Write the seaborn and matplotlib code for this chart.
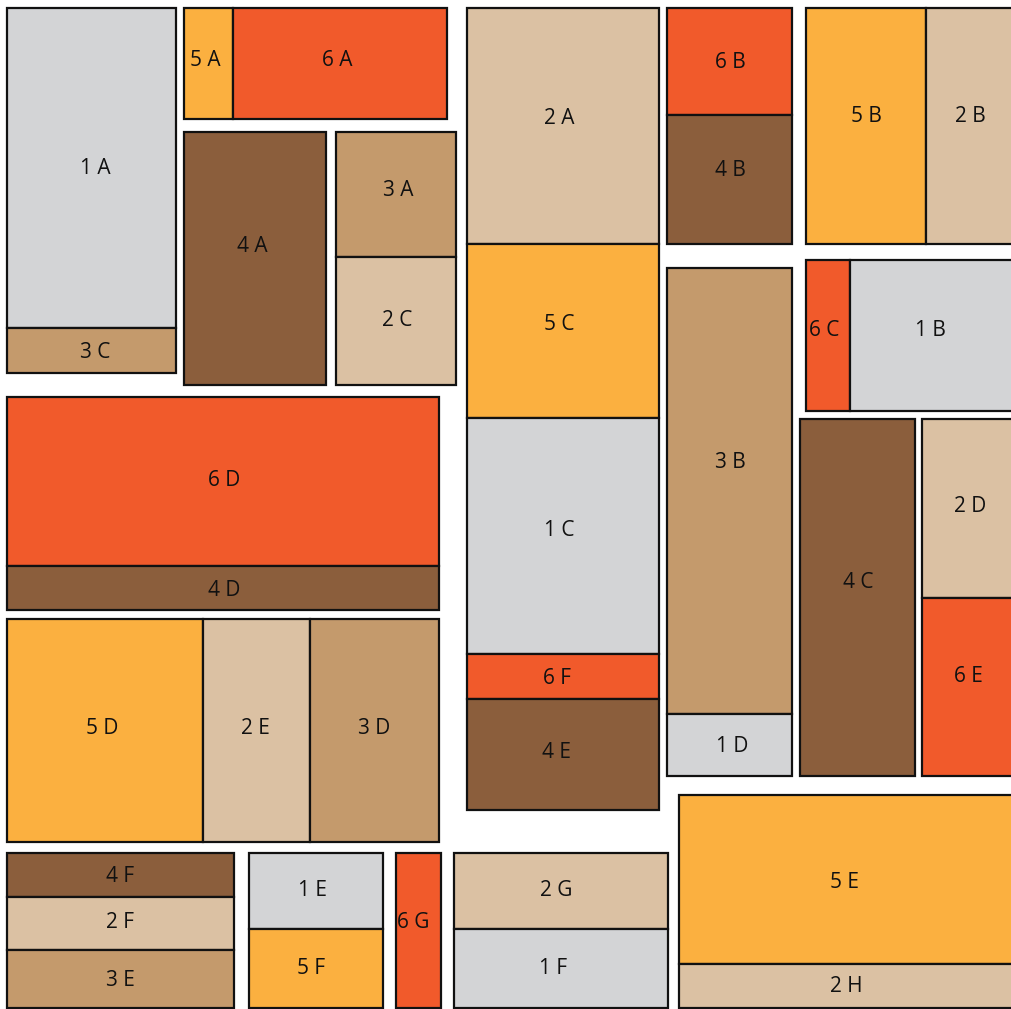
import matplotlib
matplotlib.use("Agg")
import matplotlib.pyplot as plt
import seaborn as sns
import pandas as pd

# block labels and colour group (first digit of the label)
labels = ['1 A', '3 C', '5 A', '6 A', '4 A', '3 A', '2 C',
          '2 A', '5 C', '1 C', '6 F', '4 E',
          '6 B', '4 B', '5 B', '2 B',
          '3 B', '1 D', '6 C', '1 B', '4 C', '2 D', '6 E',
          '6 D', '4 D', '5 D', '2 E', '3 D',
          '4 F', '2 F', '3 E', '1 E', '5 F', '6 G', '2 G', '1 F', '5 E', '2 H']

# block extents (left, top, right, bottom)
x_left = [7, 7, 184, 233, 184, 336, 336,
          467, 467, 467, 467, 467,
          667, 667, 806, 926,
          667, 667, 806, 850, 800, 922, 922,
          7, 7, 7, 203, 310,
          7, 7, 7, 249, 249, 396, 454, 454, 679, 679]
x_right = [176, 176, 233, 447, 326, 456, 456,
           659, 659, 659, 659, 659,
           792, 792, 926, 1020,
           792, 792, 850, 1020, 915, 1020, 1020,
           439, 439, 203, 310, 439,
           234, 234, 234, 383, 383, 441, 668, 668, 1020, 1020]
y_top = [8, 328, 8, 8, 132, 132, 257,
         8, 244, 418, 654, 699,
         8, 115, 8, 8,
         268, 714, 260, 260, 419, 419, 598,
         397, 566, 619, 619, 619,
         853, 897, 950, 853, 929, 853, 853, 929, 795, 964]
y_bottom = [328, 373, 119, 119, 385, 257, 385,
            244, 418, 654, 699, 810,
            115, 244, 244, 244,
            714, 776, 411, 411, 776, 598, 776,
            566, 610, 842, 842, 842,
            897, 950, 1008, 929, 1008, 1008, 929, 1008, 964, 1008]

# where each label sits (not always the block centre)
label_x = [95, 95, 205, 337, 252, 398, 397,
           559, 559, 559, 557, 557,
           730, 730, 866, 970,
           730, 732, 824, 930, 858, 970, 968,
           224, 224, 102, 255, 374,
           120, 120, 120, 312, 311, 413, 556, 553, 844, 846]
label_y = [165, 349, 57, 57, 244, 187, 318,
           116, 322, 527, 676, 749,
           60, 168, 114, 114,
           460, 743, 327, 327, 580, 504, 673,
           478, 587, 725, 725, 725,
           873, 920, 977, 887, 965, 919, 887, 966, 879, 984]

group_colors = {'1': '#D3D4D6', '2': '#DBC1A3', '3': '#C49A6C',
                '4': '#8B5E3C', '5': '#FBB040', '6': '#F15A2B'}

df = pd.DataFrame({'label': labels, 'x0': x_left, 'x1': x_right,
                   'y0': y_top, 'y1': y_bottom,
                   'lx': label_x, 'ly': label_y})
df['group'] = df['label'].str[0]
df['w'] = df['x1'] - df['x0']
df['h'] = df['y1'] - df['y0']

sns.set_style('white')
plt.rcParams['font.family'] = ['Open Sans', 'DejaVu Sans']

fig = plt.figure(figsize=(10.11, 10.09), dpi=100)
ax = fig.add_axes([0, 0, 1, 1])

ax.bar(df['x0'], df['h'], width=df['w'], bottom=df['y0'], align='edge',
       color=[group_colors[g] for g in df['group']],
       edgecolor='#111111', linewidth=1.6)

for _, r in df.iterrows():
    ax.annotate(r['label'], (r['lx'], r['ly']), xytext=(0, -3),
                textcoords='offset pixels', ha='center', va='center',
                fontsize=15, color='#111111')

ax.set_xlim(0, 1011)
ax.set_ylim(1009, 0)
ax.axis('off')

fig.savefig('out.png', dpi=100)
